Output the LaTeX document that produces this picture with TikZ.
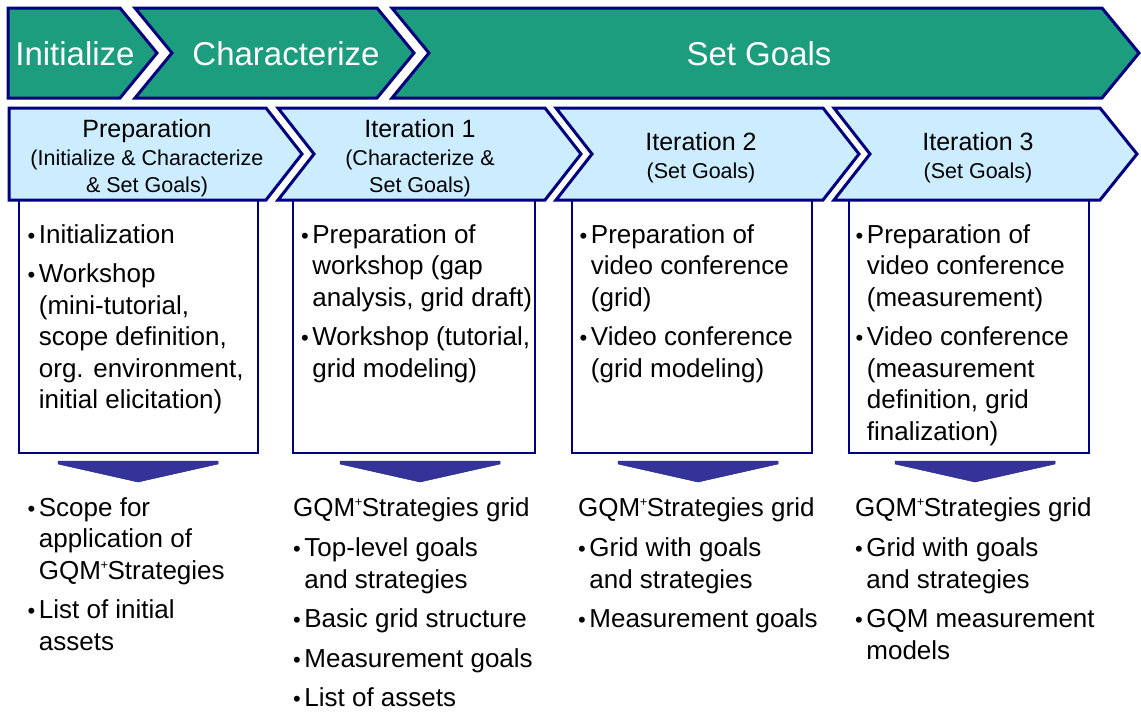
\documentclass[tikz,border=0pt]{standalone}
\usepackage{fontspec}
\setmainfont{Liberation Sans}
\definecolor{phasegreen}{RGB}{27,157,126}
\definecolor{steplight}{RGB}{204,236,255}
\definecolor{navy}{RGB}{0,0,128}
\definecolor{arrowblue}{RGB}{51,51,153}
\newcommand{\blt}{{\fontsize{22}{22}\selectfont\textbullet}}
\newcommand{\gqm}{GQM\kern-0.5pt\raisebox{10pt}{\fontsize{13}{13}\selectfont+}\kern-0.5pt Strategies}
\newcommand{\ttl}{\fontsize{25}{27}\selectfont}

\begin{document}
\begin{tikzpicture}[x=1pt,y=-1pt]
        \tikzstyle{phase}=[fill=phasegreen,draw=navy,line width=3pt]
        \tikzstyle{stage}=[fill=steplight,draw=navy,line width=3pt]
        \tikzstyle{taskbox}=[fill=white,draw=navy,line width=2.5pt]
        \tikzstyle{dnarrow}=[fill=arrowblue,draw=arrowblue!85!black,line width=0.5pt]
        \tikzstyle{phaselabel}=[text=white,font=\fontsize{33}{40}\selectfont,inner sep=0pt,anchor=base]
        \tikzstyle{stagelabel}=[font=\fontsize{21.5}{27}\selectfont,inner sep=0pt,anchor=base]
        \tikzstyle{list}=[font=\fontsize{26}{31.5}\selectfont,inner sep=0pt,anchor=base west]
        \useasboundingbox (0,0) rectangle (1141,713);
        % phases
        \draw[phase] (8,8) -- (120,8) -- (157,53) -- (120,98) -- (8,98) -- cycle;
        \draw[phase] (135,8) -- (377,8) -- (414,53) -- (377,98) -- (135,98) -- (172,53) -- cycle;
        \draw[phase] (392,8) -- (1102,8) -- (1139,53) -- (1102,98) -- (392,98) -- (429,53) -- cycle;
        \node[phaselabel] (init) at (75,65) {Initialize};
        \node[phaselabel] (char) at (286,65) {Characterize};
        \node[phaselabel] (goals) at (759,65) {Set Goals};
        % task boxes
        \draw[taskbox] (19,196) rectangle (258,453);
        \draw[taskbox] (293,196) rectangle (535,453);
        \draw[taskbox] (572,196) rectangle (812,453);
        \draw[taskbox] (849,196) rectangle (1089,453);
        % stages
        \draw[stage] (9,108) -- (266,108) -- (302,154) -- (266,200) -- (9,200) -- cycle;
        \draw[stage] (278,108) -- (545,108) -- (581,154) -- (545,200) -- (278,200) -- (314,154) -- cycle;
        \draw[stage] (556,108) -- (823,108) -- (859,154) -- (823,200) -- (556,200) -- (592,154) -- cycle;
        \draw[stage] (834,108) -- (1100,108) -- (1137,154) -- (1100,200) -- (834,200) -- (870,154) -- cycle;
        \node[stagelabel] (prep) at (147,137) {\begin{tabular}[t]{@{}c@{}}{\ttl Preparation}\\[1pt](Initialize \& Characterize\\\& Set Goals)\end{tabular}};
        \node[stagelabel] (iterA) at (420,137) {\begin{tabular}[t]{@{}c@{}}{\ttl Iteration 1}\\[1pt](Characterize \&\\Set Goals)\end{tabular}};
        \node[stagelabel] (iterB) at (701,150) {\begin{tabular}[t]{@{}c@{}}{\ttl Iteration 2}\\[1pt](Set Goals)\end{tabular}};
        \node[stagelabel] (iterC) at (978,150) {\begin{tabular}[t]{@{}c@{}}{\ttl Iteration 3}\\[1pt](Set Goals)\end{tabular}};
        % activities
        \node[list] (tasksA) at (27.5,243) {\begin{tabular}[t]{@{}l@{\hspace{3.5pt}}l@{}}
            \blt & Initialization\\[8pt]
            \blt & Workshop\\ & (mini-tutorial,\\ & scope definition,\\ & org. environment,\\ & initial elicitation)\end{tabular}};
        \node[list] (tasksB) at (301,243) {\begin{tabular}[t]{@{}l@{\hspace{3.5pt}}l@{}}
            \blt & Preparation of\\ & workshop (gap\\ & analysis, grid draft)\\[8pt]
            \blt & Workshop (tutorial,\\ & grid modeling)\end{tabular}};
        \node[list] (tasksC) at (579.5,243) {\begin{tabular}[t]{@{}l@{\hspace{3.5pt}}l@{}}
            \blt & Preparation of\\ & video conference\\ & (grid)\\[8pt]
            \blt & Video conference\\ & (grid modeling)\end{tabular}};
        \node[list] (tasksD) at (855.5,243) {\begin{tabular}[t]{@{}l@{\hspace{3.5pt}}l@{}}
            \blt & Preparation of\\ & video conference\\ & (measurement)\\[8pt]
            \blt & Video conference\\ & (measurement\\ & definition, grid\\ & finalization)\end{tabular}};
        % arrows
        \foreach \x in {138,420,698,975}
            \draw[dnarrow] (\x-80,461) -- (\x+80,461) -- (\x+80,464) -- (\x,482) -- (\x-80,464) -- cycle;
        % results
        \node[list] (resA) at (27.5,516) {\begin{tabular}[t]{@{}l@{\hspace{3.5pt}}l@{}}
            \blt & Scope for\\ & application of\\ & \gqm\\[8pt]
            \blt & List of initial\\ & assets\end{tabular}};
        \node[list] (resB) at (293,516) {\begin{tabular}[t]{@{}l@{\hspace{3.5pt}}l@{}}
            \multicolumn{2}{@{}l@{}}{\gqm{} grid}\\[9pt]
            \blt & Top-level goals\\ & and strategies\\[8pt]
            \blt & Basic grid structure\\[8pt]
            \blt & Measurement goals\\[8pt]
            \blt & List of assets\end{tabular}};
        \node[list] (resC) at (578,516) {\begin{tabular}[t]{@{}l@{\hspace{3.5pt}}l@{}}
            \multicolumn{2}{@{}l@{}}{\gqm{} grid}\\[9pt]
            \blt & Grid with goals\\ & and strategies\\[8pt]
            \blt & Measurement goals\end{tabular}};
        \node[list] (resD) at (855,516) {\begin{tabular}[t]{@{}l@{\hspace{3.5pt}}l@{}}
            \multicolumn{2}{@{}l@{}}{\gqm{} grid}\\[9pt]
            \blt & Grid with goals\\ & and strategies\\[8pt]
            \blt & GQM measurement\\ & models\end{tabular}};
\end{tikzpicture}
\end{document}
